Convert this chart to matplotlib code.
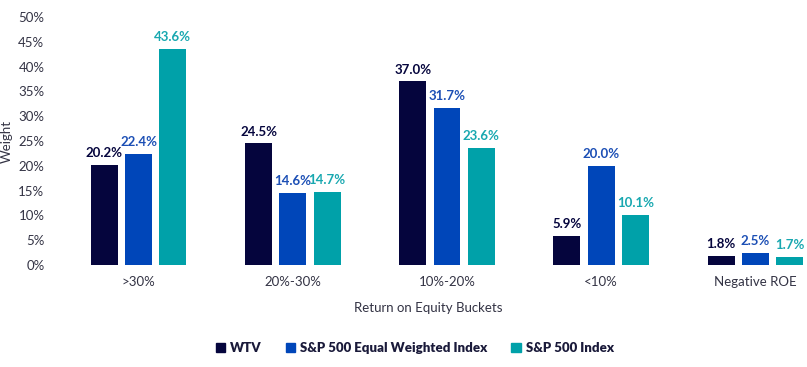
import numpy as np
import matplotlib.pyplot as plt
from matplotlib.patches import Patch

plt.rcParams['font.family'] = ['Lato', 'DejaVu Sans']

categories = ['>30%', '20%-30%', '10%-20%', '<10%', 'Negative ROE']
series_names = ['WTV', 'S&P 500 Equal Weighted Index', 'S&P 500 Index']
wtv = [20.2, 24.5, 37.0, 5.9, 1.8]
equal_wt = [22.4, 14.6, 31.7, 20.0, 2.5]
sp500 = [43.6, 14.7, 23.6, 10.1, 1.7]
y_ticks = [0, 5, 10, 15, 20, 25, 30, 35, 40, 45, 50]

colors = ['#05053d', '#0046b9', '#00a1a9']
label_colors = ['#05053d', '#1c4fb5', '#18a8b0']
text_color = '#333344'

fig = plt.figure(figsize=(8.07, 3.67), dpi=100)
ax = fig.add_axes([50 / 807, 1 - 265 / 367, 757 / 807, 248 / 367])

x = np.arange(len(categories))
width = 0.175
pitch = 0.222
for i, (vals, c, lc) in enumerate(zip([wtv, equal_wt, sp500], colors, label_colors)):
    pos = x + (i - 1) * pitch
    ax.bar(pos, vals, width, color=c)
    for p, v in zip(pos, vals):
        ax.text(p, v + 1.2, f'{v:.1f}%', ha='center', va='bottom',
                fontsize=9.5, fontweight='bold', color=lc)

ax.set_xlim(-0.575, 4.335)
ax.set_ylim(0, 50)
ax.set_yticks(y_ticks)
ax.set_yticklabels([f'{t}%' for t in y_ticks], fontsize=9.5, color=text_color)
ax.set_xticks(x)
ax.set_xticklabels(categories, fontsize=9.5, color=text_color)
ax.tick_params(length=0, pad=8)
ax.tick_params(axis='y', pad=4)
for s in ax.spines.values():
    s.set_visible(False)
ax.set_ylabel('Weight', fontsize=9.5, color=text_color, labelpad=4)
ax.set_xlabel('Return on Equity Buckets', fontsize=9.5, color=text_color, labelpad=10)

handles = [Patch(color=c) for c in colors]
leg = fig.legend(handles, series_names, loc='center', bbox_to_anchor=(415 / 807, 1 - 348 / 367),
                 ncol=3, frameon=False, handlelength=0.7, handleheight=0.7,
                 handletextpad=0.4, columnspacing=1.8,
                 prop={'weight': 'heavy', 'size': 9.5})
for t in leg.get_texts():
    t.set_color('#1a1a3a')

fig.savefig('out.png', dpi=100)
